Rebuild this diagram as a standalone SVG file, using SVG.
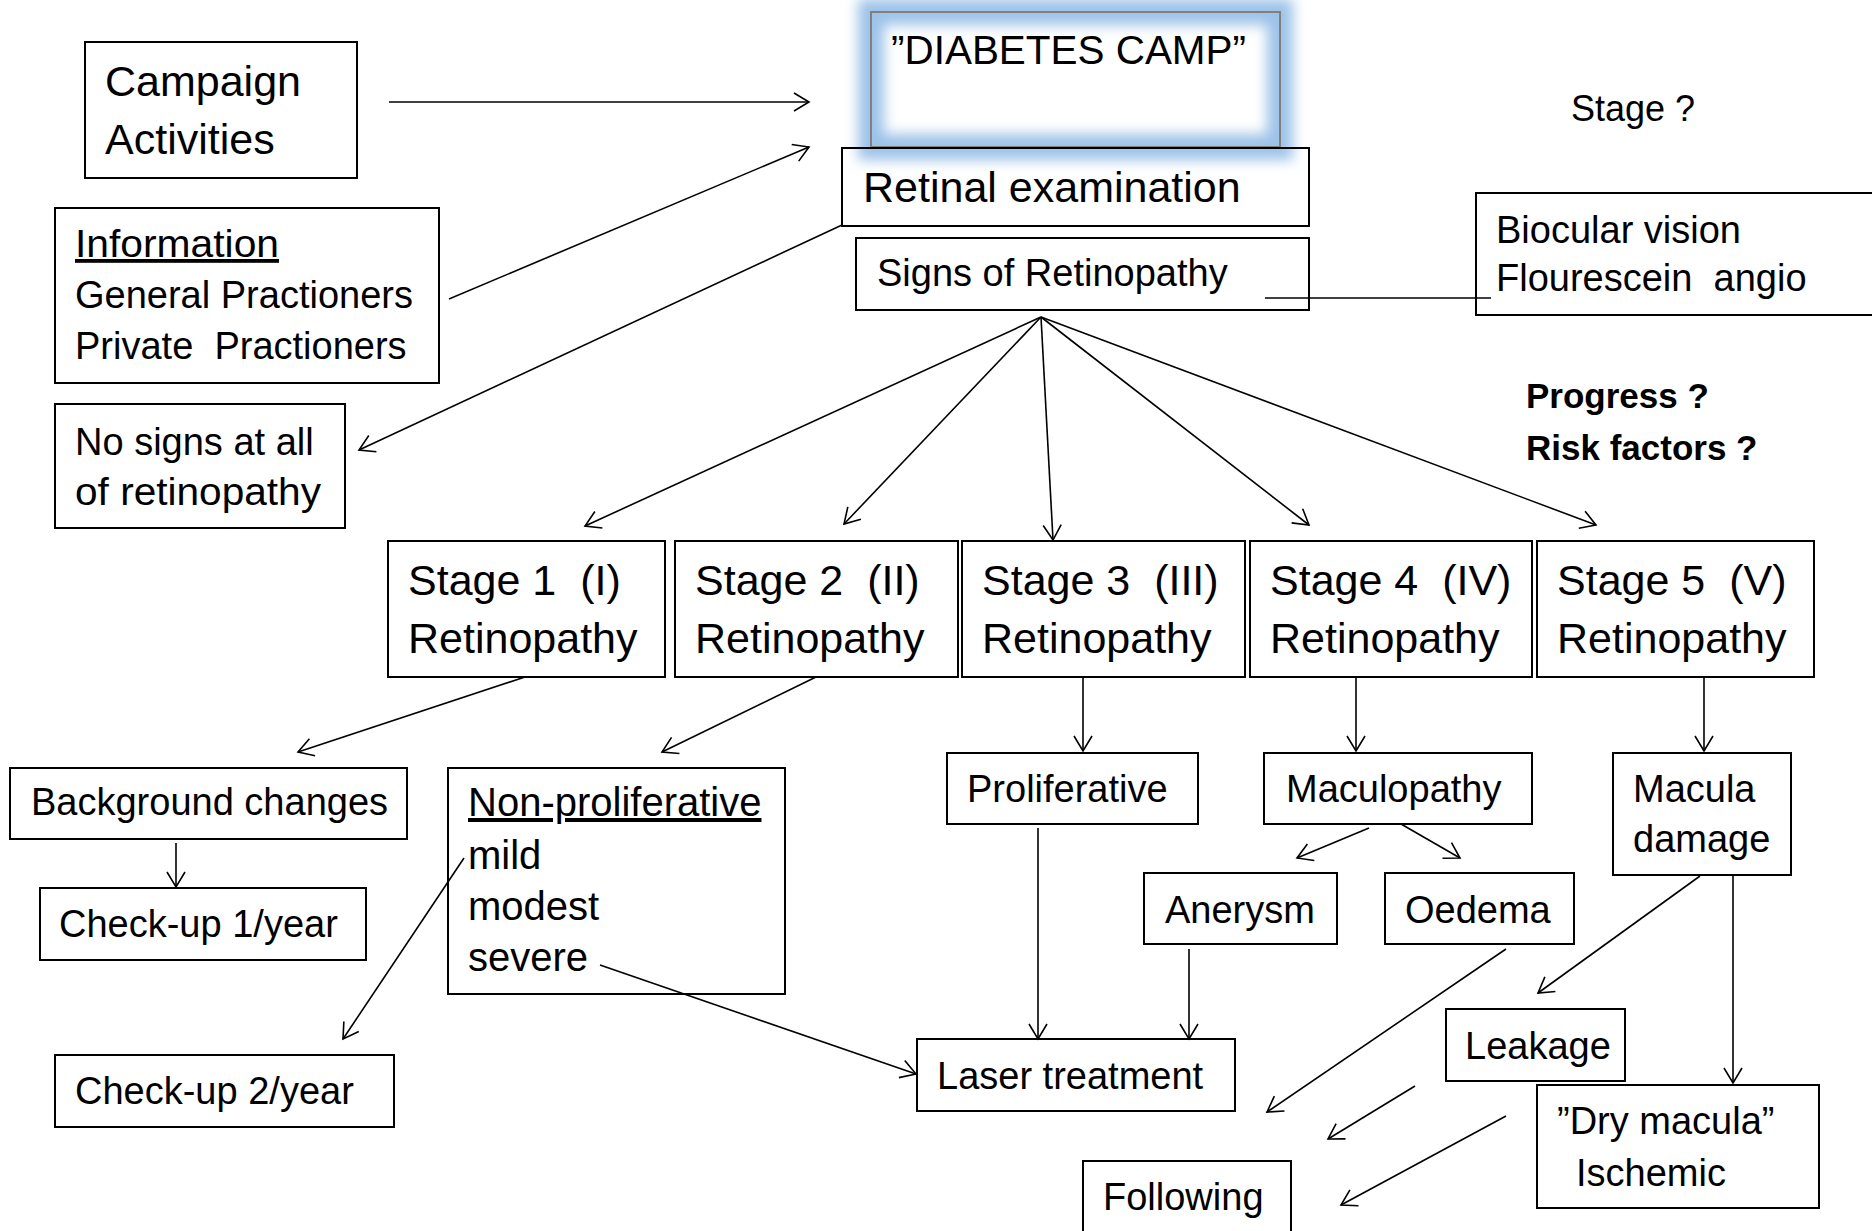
<svg xmlns="http://www.w3.org/2000/svg" width="1872" height="1231" viewBox="0 0 1872 1231">
<style>
  text { font-family: "Liberation Sans", Arial, sans-serif; fill: #000; white-space: pre; }
  .box { fill: none; stroke: #000; stroke-width: 2; }
  .t43 { font-size: 43px; }
  .t38 { font-size: 38px; }
  .t40 { font-size: 40px; }
  .bold { font-size: 35px; font-weight: bold; }
  .conn line { stroke: #000; stroke-width: 1.6; fill: none; }
  .arr { marker-end: url(#arr); }
</style>
<defs>
  <marker id="arr" markerUnits="userSpaceOnUse" viewBox="0 0 18 20" refX="16" refY="10" markerWidth="18" markerHeight="20" orient="auto">
    <path d="M1,1 L16,10 L1,19" fill="none" stroke="#000" stroke-width="1.6"/>
  </marker>
  <filter id="glow" x="-20%" y="-50%" width="140%" height="200%">
    <feGaussianBlur stdDeviation="6.5"/>
  </filter>
</defs>
<rect width="1872" height="1231" fill="#fff"/>

<g id="diabetes-camp">
  <rect x="871" y="12" width="409" height="135" fill="none" stroke="#9cc2e8" stroke-width="26" filter="url(#glow)"/>
  <rect x="871" y="12" width="409" height="135" fill="none" stroke="#808080" stroke-width="2"/>
  <text x="891" y="64" font-size="40" textLength="355" lengthAdjust="spacingAndGlyphs">”DIABETES CAMP”</text>
</g>

<g id="campaign">
  <rect class="box" x="85" y="42" width="272" height="136"/>
  <text x="105" y="96" class="t43">Campaign</text>
  <text x="105" y="154" class="t43">Activities</text>
</g>

<g id="information">
  <rect class="box" x="55" y="208" width="384" height="175"/>
  <text x="75" y="257" class="t38" text-decoration="underline" textLength="204" lengthAdjust="spacingAndGlyphs">Information</text>
  <text x="75" y="308" class="t38">General Practioners</text>
  <text x="75" y="359" class="t38">Private  Practioners</text>
</g>

<g id="retinal-exam">
  <rect class="box" x="842" y="148" width="467" height="78"/>
  <text x="863" y="202" class="t43">Retinal examination</text>
</g>

<g id="signs">
  <rect class="box" x="856" y="238" width="453" height="72"/>
  <text x="877" y="286" class="t38">Signs of Retinopathy</text>
</g>

<g id="biocular">
  <rect class="box" x="1476" y="193" width="420" height="122"/>
  <text x="1496" y="243" class="t38">Biocular vision</text>
  <text x="1496" y="291" class="t38">Flourescein  angio</text>
</g>

<g id="stage-q">
  <text x="1571" y="121" font-size="36">Stage ?</text>
</g>

<g id="progress">
  <text x="1526" y="408" class="bold">Progress ?</text>
  <text x="1526" y="460" class="bold">Risk factors ?</text>
</g>

<g id="no-signs">
  <rect class="box" x="55" y="404" width="290" height="124"/>
  <text x="75" y="455" class="t38">No signs at all</text>
  <text x="75" y="505" class="t38" textLength="246" lengthAdjust="spacingAndGlyphs">of retinopathy</text>
</g>

<g id="stage1">
  <rect class="box" x="388" y="541" width="277" height="136"/>
  <text x="408" y="595" class="t43">Stage 1  (I)</text>
  <text x="408" y="653" class="t43">Retinopathy</text>
</g>
<g id="stage2">
  <rect class="box" x="675" y="541" width="283" height="136"/>
  <text x="695" y="595" class="t43">Stage 2  (II)</text>
  <text x="695" y="653" class="t43">Retinopathy</text>
</g>
<g id="stage3">
  <rect class="box" x="962" y="541" width="283" height="136"/>
  <text x="982" y="595" class="t43">Stage 3  (III)</text>
  <text x="982" y="653" class="t43">Retinopathy</text>
</g>
<g id="stage4">
  <rect class="box" x="1250" y="541" width="282" height="136"/>
  <text x="1270" y="595" class="t43">Stage 4  (IV)</text>
  <text x="1270" y="653" class="t43">Retinopathy</text>
</g>
<g id="stage5">
  <rect class="box" x="1537" y="541" width="277" height="136"/>
  <text x="1557" y="595" class="t43">Stage 5  (V)</text>
  <text x="1557" y="653" class="t43">Retinopathy</text>
</g>

<g id="background">
  <rect class="box" x="10" y="768" width="397" height="71"/>
  <text x="31" y="815" class="t38">Background changes</text>
</g>
<g id="checkup1">
  <rect class="box" x="40" y="888" width="326" height="72"/>
  <text x="59" y="937" class="t38">Check-up 1/year</text>
</g>
<g id="non-proliferative">
  <rect class="box" x="448" y="768" width="337" height="226"/>
  <text x="468" y="816" class="t40" text-decoration="underline">Non-proliferative</text>
  <text x="468" y="869" class="t40">mild</text>
  <text x="468" y="920" class="t40">modest</text>
  <text x="468" y="971" class="t40">severe</text>
</g>
<g id="checkup2">
  <rect class="box" x="55" y="1055" width="339" height="72"/>
  <text x="75" y="1104" class="t38">Check-up 2/year</text>
</g>
<g id="proliferative">
  <rect class="box" x="947" y="753" width="251" height="71"/>
  <text x="967" y="802" class="t38">Proliferative</text>
</g>
<g id="maculopathy">
  <rect class="box" x="1264" y="753" width="268" height="71"/>
  <text x="1286" y="802" class="t38">Maculopathy</text>
</g>
<g id="macula-damage">
  <rect class="box" x="1613" y="753" width="178" height="122"/>
  <text x="1633" y="802" class="t38">Macula</text>
  <text x="1633" y="852" class="t38">damage</text>
</g>
<g id="anerysm">
  <rect class="box" x="1144" y="873" width="193" height="71"/>
  <text x="1165" y="923" class="t38">Anerysm</text>
</g>
<g id="oedema">
  <rect class="box" x="1385" y="873" width="189" height="71"/>
  <text x="1405" y="923" class="t38">Oedema</text>
</g>
<g id="laser">
  <rect class="box" x="917" y="1039" width="318" height="72"/>
  <text x="937" y="1089" class="t38">Laser treatment</text>
</g>
<g id="leakage">
  <rect class="box" x="1446" y="1009" width="179" height="72"/>
  <text x="1465" y="1059" class="t38">Leakage</text>
</g>
<g id="dry-macula">
  <rect class="box" x="1537" y="1085" width="282" height="123"/>
  <text x="1557" y="1134" class="t38">”Dry macula”</text>
  <text x="1576" y="1186" class="t38">Ischemic</text>
</g>
<g id="following">
  <rect class="box" x="1083" y="1161" width="208" height="90"/>
  <text x="1103" y="1210" class="t38">Following</text>
</g>

<g id="connectors" class="conn">
  <line class="arr" x1="389" y1="102" x2="809" y2="102"/>
  <line class="arr" x1="449" y1="299" x2="809" y2="147"/>
  <line class="arr" x1="842" y1="225" x2="359" y2="450"/>
  <line x1="1265" y1="298" x2="1491" y2="298"/>
  <line class="arr" x1="1041" y1="317" x2="585" y2="526"/>
  <line class="arr" x1="1041" y1="317" x2="844" y2="524"/>
  <line class="arr" x1="1041" y1="317" x2="1053" y2="540"/>
  <line class="arr" x1="1041" y1="317" x2="1309" y2="525"/>
  <line class="arr" x1="1041" y1="317" x2="1596" y2="525"/>
  <line class="arr" x1="525" y1="677" x2="298" y2="752"/>
  <line class="arr" x1="816" y1="677" x2="662" y2="752"/>
  <line class="arr" x1="176" y1="843" x2="176" y2="887"/>
  <line class="arr" x1="464" y1="858" x2="343" y2="1039"/>
  <line class="arr" x1="600" y1="965" x2="916" y2="1074"/>
  <line class="arr" x1="1083" y1="677" x2="1083" y2="751"/>
  <line class="arr" x1="1356" y1="677" x2="1356" y2="751"/>
  <line class="arr" x1="1704" y1="677" x2="1704" y2="751"/>
  <line class="arr" x1="1369" y1="828" x2="1297" y2="858"/>
  <line class="arr" x1="1401" y1="824" x2="1460" y2="858"/>
  <line class="arr" x1="1038" y1="828" x2="1038" y2="1039"/>
  <line class="arr" x1="1189" y1="949" x2="1189" y2="1039"/>
  <line class="arr" x1="1506" y1="949" x2="1267" y2="1112"/>
  <line class="arr" x1="1700" y1="876" x2="1538" y2="993"/>
  <line class="arr" x1="1733" y1="875" x2="1733" y2="1083"/>
  <line class="arr" x1="1415" y1="1086" x2="1328" y2="1139"/>
  <line class="arr" x1="1506" y1="1116" x2="1341" y2="1205"/>
</g>
</svg>
